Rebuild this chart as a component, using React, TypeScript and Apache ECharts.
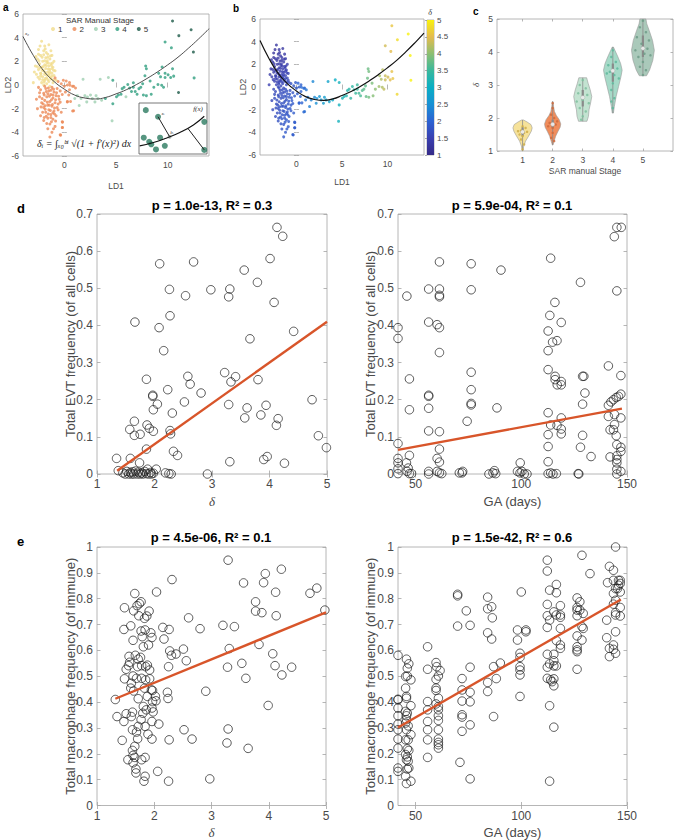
import React, { useEffect, useRef } from "react";
import * as echarts from "echarts";

const FONT = "'Liberation Sans', Arial, Helvetica, sans-serif";
const SERIF = "'Liberation Serif', 'DejaVu Serif', serif";
const AXIS_COLOR = "#a3a3a3";
const TEXT_COLOR = "#4a4a4a";
const FIT_COLOR = "#d8552a";

// ---------- Panel a / b : [LD1, LD2, SAR stage, delta]
const ldPoints: number[][] = [
  [-2.2,3.7,1,1.3],[-1.9,3.3,1,1.3],[-2.5,3.0,1,1.25],[-2.0,2.9,1,1.3],[-1.6,2.6,1,1.35],[-2.3,2.5,1,1.3],[-1.2,2.5,1,1.4],[-1.8,2.3,1,1.35],[-2.6,2.2,1,1.3],[-1.4,2.2,1,1.4],
  [-2.1,2.0,1,1.35],[-1.0,2.0,1,1.45],[-1.7,1.9,1,1.4],[-2.4,1.8,1,1.35],[-1.3,1.8,1,1.45],[-1.9,1.7,1,1.4],[-2.8,1.6,1,1.3],[-1.5,1.6,1,1.45],[-2.2,1.5,1,1.4],[-1.1,1.5,1,1.5],
  [-1.8,1.4,1,1.45],[-2.5,1.3,1,1.4],[-1.4,1.3,1,1.5],[-2.0,1.2,1,1.45],[-0.9,1.2,1,1.55],[-1.6,1.1,1,1.5],[-2.3,1.0,1,1.45],[-1.2,1.0,1,1.55],[-1.9,0.9,1,1.5],[-2.7,0.9,1,1.45],
  [-1.5,0.8,1,1.55],[-1.0,0.8,1,1.6],[-2.1,0.7,1,1.5],[-1.7,0.6,1,1.55],[-2.4,0.5,1,1.5],[-1.3,0.5,1,1.6],[-1.9,0.4,1,1.55],[-0.8,0.4,1,1.65],[-1.5,0.3,1,1.6],[-2.2,0.2,1,1.55],
  [-1.1,0.2,1,1.65],[-1.7,0.1,1,1.6],[-2.0,0.0,1,1.6],[-1.4,-0.1,1,1.65],[-2.5,2.6,1,1.25],[-1.3,2.9,1,1.35],[-1.5,3.4,1,1.3],[-2.9,1.1,1,1.4],[-3.0,0.2,1,1.5],[-1.2,1.4,1,1.5],
  [-1.65,2.05,1,1.4],[-2.05,1.55,1,1.4],[-1.25,1.65,1,1.5],[-1.85,1.05,1,1.5],[-2.35,1.45,1,1.4],[-1.45,0.95,1,1.55],[-1.95,0.25,1,1.6],[-1.35,0.65,1,1.6],[-2.15,2.35,1,1.3],[-1.75,2.75,1,1.35],
  [-1.05,0.45,1,1.65],[-2.55,0.65,1,1.5],[-1.55,1.85,1,1.45],[-2.25,0.95,1,1.5],[-1.85,0.55,1,1.55],
  [-1.6,2.35,1,1.35],[-2.0,2.55,1,1.3],[-1.35,2.45,1,1.4],[-2.45,2.05,1,1.35],[-1.15,1.85,1,1.45],[-1.75,1.65,1,1.45],[-2.15,1.25,1,1.45],[-1.55,1.35,1,1.5],[-1.05,1.25,1,1.55],[-2.6,1.55,1,1.35],
  [-1.7,0.85,1,1.55],[-2.3,0.75,1,1.5],[-1.2,0.75,1,1.6],[-1.6,0.45,1,1.6],[-2.1,0.45,1,1.55],[-1.4,1.1,1,1.55],[-1.9,2.05,1,1.4],[-2.75,2.4,1,1.3],[-1.85,3.05,1,1.3],[-2.35,3.3,1,1.25],
  [-0.9,0.6,2,1.65],[-0.6,0.3,2,1.75],[-0.3,0.1,2,1.8],[0.0,-0.1,2,1.85],[0.3,0.0,2,1.9],[-1.2,-0.2,2,1.7],[-0.7,-0.3,2,1.75],[-1.8,-0.3,2,1.65],[-2.3,-0.4,2,1.6],[-1.5,-0.5,2,1.7],
  [-1.0,-0.6,2,1.75],[-0.4,-0.5,2,1.8],[-2.0,-0.7,2,1.65],[-1.3,-0.8,2,1.75],[-0.8,-0.9,2,1.8],[-1.7,-1.0,2,1.7],[-2.4,-1.0,2,1.65],[-1.1,-1.1,2,1.75],[-0.5,-1.2,2,1.85],[-1.9,-1.3,2,1.7],
  [-1.4,-1.4,2,1.75],[-2.2,-1.5,2,1.7],[-0.9,-1.5,2,1.8],[-1.6,-1.7,2,1.75],[-1.2,-1.8,2,1.8],[-2.0,-1.9,2,1.7],[-0.7,-1.9,2,1.85],[-1.5,-2.1,2,1.75],[-1.0,-2.2,2,1.8],[-1.8,-2.3,2,1.75],
  [-1.3,-2.5,2,1.8],[-2.3,-2.6,2,1.7],[-0.8,-2.6,2,1.85],[-1.6,-2.8,2,1.8],[-1.1,-2.9,2,1.85],[-2.0,-3.0,2,1.75],[-1.4,-3.3,2,1.8],[-0.9,-3.5,2,1.85],[-1.6,-3.7,2,1.8],[-1.2,-4.0,2,1.85],
  [-1.4,-4.4,2,1.85],[-0.2,-3.1,2,1.9],[-0.2,-3.6,2,1.9],[-0.4,-4.2,2,1.9],[0.6,-1.4,2,2.0],[0.3,-1.4,2,1.95],[0.1,-0.6,2,1.9],[0.5,-0.4,2,1.95],[-0.2,-0.8,2,1.85],[0.8,-2.2,2,2.05],
  [-2.6,-2.0,2,1.65],[-2.1,-2.3,2,1.7],[-2.5,-0.2,2,1.6],[-1.9,-0.1,2,1.65],[0.9,-0.1,2,2.05],[0.5,0.2,2,1.95],[-0.1,0.4,2,1.85],[-2.7,-1.2,2,1.6],[-0.6,-1.6,2,1.85],[-0.3,-2.3,2,1.9],
  [-1.75,-0.55,2,1.7],[-1.25,-1.25,2,1.75],[-1.65,-1.45,2,1.75],[-1.05,-0.35,2,1.75],[-1.45,-0.95,2,1.75],[-2.15,-1.15,2,1.7],[-1.15,-1.65,2,1.8],[-1.85,-1.75,2,1.75],[-1.35,-2.15,2,1.8],[-0.95,-2.45,2,1.85],
  [-1.75,-2.65,2,1.8],[-1.55,-0.25,2,1.7],[-0.85,-1.25,2,1.8],[-1.95,-0.85,2,1.7],[-1.25,-3.1,2,1.85],
  [-1.6,-0.75,2,1.7],[-1.1,-0.85,2,1.75],[-2.05,-1.6,2,1.7],[-1.45,-1.7,2,1.75],[-0.75,-0.65,2,1.8],[-1.3,-0.45,2,1.7],[-1.85,-2.05,2,1.75],[-1.1,-2.35,2,1.8],[-1.55,-2.45,2,1.8],[-0.6,-2.1,2,1.85],
  [-1.95,-2.75,2,1.75],[-1.3,-2.75,2,1.8],[-0.85,-3.05,2,1.85],[-1.7,-3.25,2,1.8],[-1.05,-3.7,2,1.85],[-2.25,-1.85,2,1.7],[-0.4,-1.45,2,1.85],[-0.55,-0.95,2,1.8],[-2.4,-0.65,2,1.65],[-0.95,-1.95,2,1.8],
  [0.18,0.34,2,2.0],[0.29,-1.43,2,2.0],[0.43,-0.84,2,2.0],[0.54,-0.02,2,2.05],[0.79,-0.11,2,2.1],[0.9,-2.17,2,2.1],[1.08,-0.25,2,2.2],[-0.18,-3.14,2,1.9],[-0.18,-3.59,2,1.9],[-0.36,-4.24,2,1.9],
  [1.01,-1.14,3,2.2],[1.26,-0.9,3,2.25],[1.44,-1.73,3,2.3],[1.62,-1.14,3,2.35],[1.81,0.48,3,2.4],[1.99,-0.9,3,2.45],[2.17,-1.43,3,2.5],[2.24,-1.02,3,2.5],[2.53,-0.84,3,2.6],[2.71,-1.14,3,2.65],
  [2.96,-1.43,3,2.7],[3.07,-0.9,3,2.7],[3.25,-1.14,3,2.75],[3.47,0.48,3,2.8],[3.61,-1.29,3,2.8],[3.97,-1.14,4,2.9],[4.26,0.63,3,3.0],[4.62,-3.03,3,3.1],[4.69,-1.58,4,3.1],[4.69,0.4,4,3.1],
  [5.05,-0.99,4,3.2],[5.23,-0.84,4,3.2],[5.49,-0.78,4,3.3],[5.6,-0.31,4,3.3],[5.78,-0.19,4,3.35],[5.96,-0.99,3,3.4],[6.14,0.04,4,3.4],[6.32,-0.25,4,3.45],[6.5,-0.55,4,3.5],[6.68,0.19,4,3.5],
  [6.68,-0.19,4,3.5],[6.86,-0.55,4,3.55],[7.04,-0.78,4,3.6],[7.22,-0.31,4,3.65],[7.4,-0.19,4,3.7],[7.58,0.1,4,3.7],[7.65,-0.84,4,3.75],[7.8,0.78,4,3.8],[7.87,1.6,4,3.8],[7.94,1.37,4,3.85],
  [7.94,-0.9,4,3.85],[8.3,0.34,4,3.9],[8.41,-0.78,4,3.95],[8.66,-0.19,4,4.0],[9.06,0.04,4,4.1],[9.13,0.99,4,4.15],[9.31,0.69,4,4.2],[9.42,-0.02,4,4.2],[9.46,1.52,4,4.25],[9.6,-0.19,4,4.3],
  [9.75,0.99,4,4.35],[9.75,0.63,4,4.35],[9.75,3.64,4,4.4],[10.04,0.87,4,4.4],[10.29,0.63,4,4.5],[10.36,3.14,4,4.5],[10.47,1.37,4,4.55],[10.47,5.41,5,4.6],[10.58,0.75,4,4.6],[11.05,-0.64,5,4.75],
  [11.08,4.17,5,4.8],[12.27,4.67,5,5.0],[12.49,2.78,5,5.0],[12.56,0.6,4,5.0],
];
const ldCurve: number[][] = [
  [-4,4.1],[-3,2.5],[-2,1.2],[-1,0.3],[0,-0.35],[1,-0.85],[2,-1.1],[3,-1.18],[4,-1.05],[5,-0.75],
  [6,-0.4],[7,0.05],[8,0.55],[9,1.1],[10,1.7],[11,2.35],[12,3.1],[13,3.9],[14,4.75],
];
const stageNames = ["1", "2", "3", "4", "5"];
const stageColors = ["#f1dc8c", "#ec8a58", "#9fcfb2", "#2f9f7f", "#1d5a48"];
const parula = ["#352a87", "#3a40b0", "#2c62d2", "#1890d4", "#0aaec4", "#3ab89c", "#8cbf72", "#e4bb4e", "#f9f20f"];
const deltaRange = [1, 5];

// inset schematic (unit square 0..10)
const insetCurve: number[][] = [[0.1,1.6],[2,2.2],[4,3.1],[6,4.2],[8,5.7],[9.6,7.4]];
const insetDots: number[][] = [[1,8.6],[2.8,7.3],[0.7,3.2],[3.1,3.2],[1.8,1.9],[2.5,0.9],[3.8,1.6],[9.6,6.3],[9.6,0.8],[1.5,2.4]];
const insetProj1: number[][] = [[2.8,7.3],[4.5,3.4]];
const insetProj2: number[][] = [[7.2,5.0],[9.6,0.8]];
const insetFoot: number[][] = [[4.5,3.4]];

// ---------- Panel c : violins
const violinStages = [1, 2, 3, 4, 5];
const violinProfiles: number[][][] = [
  [[1.0,0.01],[1.15,0.04],[1.3,0.1],[1.45,0.2],[1.6,0.29],[1.7,0.32],[1.8,0.28],[1.88,0.15],[1.94,0.03]],
  [[1.18,0.01],[1.3,0.05],[1.45,0.1],[1.6,0.18],[1.72,0.25],[1.82,0.27],[1.95,0.22],[2.08,0.12],[2.2,0.06],[2.35,0.03],[2.5,0.01]],
  [[1.9,0.14],[2.05,0.19],[2.25,0.21],[2.45,0.26],[2.65,0.3],[2.85,0.25],[3.05,0.18],[3.22,0.13]],
  [[2.15,0.02],[2.35,0.05],[2.65,0.11],[2.95,0.19],[3.25,0.27],[3.45,0.31],[3.65,0.26],[3.85,0.17],[4.05,0.07],[4.15,0.02]],
  [[3.28,0.12],[3.45,0.22],[3.75,0.33],[4.05,0.38],[4.35,0.32],[4.65,0.21],[4.85,0.13],[5.0,0.1]],
];
const violinMin = [1.0, 1.18, 1.9, 2.15, 3.28];
const violinMax = [1.94, 2.5, 3.22, 4.15, 5.0];
const violinQ1 = [1.45, 1.7, 2.35, 3.1, 3.85];
const violinQ3 = [1.72, 1.95, 2.85, 3.65, 4.5];
const violinMedian = [1.58, 1.81, 2.62, 3.43, 4.11];
const violinFill = ["#f6e29a", "#f08d5c", "#c3e3d1", "#a6dac8", "#aac9ba"];
const violinDotColor = ["#cfae48", "#cf6a3c", "#7fbf9f", "#5fb89c", "#6f9c88"];
const violinDots: number[][][] = [
  [[0.95,1.62],[1.05,1.55],[0.9,1.5],[1.1,1.7],[1.0,1.45],[0.85,1.6],[1.15,1.58],[1.0,1.75],[0.95,1.35],[1.05,1.2],[1.0,1.05]],
  [[2.0,2.45],[2.0,2.3],[1.95,2.1],[2.05,2.0],[1.9,1.85],[2.1,1.8],[2.0,1.7],[1.85,1.75],[2.15,1.9],[2.0,1.55],[1.95,1.4],[2.05,1.3]],
  [[3.0,3.15],[2.9,3.0],[3.1,2.9],[2.85,2.75],[3.15,2.7],[3.0,2.55],[2.8,2.5],[3.2,2.45],[2.9,2.3],[3.1,2.2],[3.0,2.05],[2.95,1.95]],
  [[4.0,4.05],[3.95,3.85],[4.1,3.7],[3.85,3.6],[4.15,3.5],[3.9,3.4],[4.05,3.3],[3.8,3.35],[4.2,3.2],[4.0,3.05],[3.95,2.85],[4.05,2.6],[3.95,2.5],[4.0,2.3]],
  [[5.0,4.95],[4.9,4.75],[5.1,4.6],[4.8,4.45],[5.2,4.35],[4.95,4.25],[5.15,4.1],[4.75,4.05],[5.05,3.95],[4.85,3.85],[5.25,3.9],[5.0,3.7],[4.9,3.55],[5.1,3.45],[5.0,3.3]],
];

// ---------- Panel d : EVT frequency
const evtVsDelta: number[][] = [
  [1.34,0.042],[1.37,0.009],[1.45,0.003],[1.49,0.0],[1.52,0.007],[1.55,0.0],[1.58,0.004],[1.6,0.0],[1.62,0.006],[1.64,0.0],
  [1.67,0.008],[1.7,0.0],[1.72,0.005],[1.75,0.0],[1.78,0.003],[1.8,0.0],[1.83,0.007],[1.86,0.001],[1.88,0.013],[1.9,0.0],
  [1.93,0.004],[1.95,0.0],[1.98,0.002],[2.03,0.013],[1.57,0.12],[1.58,0.042],[1.65,0.142],[1.66,0.409],[1.65,0.104],[1.75,0.107],
  [1.74,0.03],[1.86,0.255],[1.87,0.132],[1.91,0.123],[1.98,0.115],[1.86,0.067],[1.97,0.212],[1.97,0.209],[1.98,0.173],[2.05,0.188],
  [2.08,0.394],[2.09,0.566],[2.16,0.332],[2.23,0.227],[2.26,0.497],[2.27,0.426],[2.27,0.117],[2.28,0.108],[2.31,0.164],[2.33,0.061],
  [2.4,0.05],[2.19,0.003],[2.25,0.001],[2.29,0.0],[2.54,0.48],[2.52,0.194],[2.58,0.263],[2.62,0.242],[2.68,0.571],[2.81,0.218],
  [2.92,0.0],[2.98,0.496],[3.22,0.273],[3.29,0.477],[3.31,0.498],[3.29,0.187],[3.33,0.248],[3.31,0.033],[3.41,0.262],[3.56,0.549],
  [3.57,0.151],[3.61,0.178],[3.66,0.364],[3.79,0.516],[3.8,0.254],[3.85,0.159],[3.94,0.185],[3.9,0.039],[3.96,0.047],[4.01,0.58],
  [4.08,0.462],[4.13,0.664],[4.23,0.64],[4.12,0.131],[4.15,0.149],[4.26,0.029],[4.42,0.384],[4.74,0.2],[4.85,0.103],[4.99,0.071],
];
const evtDeltaFit: number[][] = [[1.35,0.009],[5.0,0.41]];
const evtVsGA: number[][] = [
  [41.7,0.394],[41.7,0.365],[41.7,0.082],[41.7,0.042],[41.7,0.03],[41.7,0.014],[41.7,0.001],
  [45.9,0.479],[47.1,0.256],[47.1,0.173],[47.1,0.05],[45.7,0.03],[46.5,0.016],[46.0,0.007],[47.1,0.001],[48.1,0.001],
  [56.2,0.498],[56.2,0.409],[56.2,0.212],[56.2,0.209],[56.2,0.177],[56.2,0.116],[56.2,0.007],[56.2,0.0],
  [61.3,0.571],[61.3,0.498],[61.3,0.481],[61.3,0.477],[60.2,0.402],[61.3,0.394],[61.3,0.327],[61.3,0.114],[61.3,0.067],[60.2,0.042],[61.3,0.032],[60.2,0.007],[61.3,0.003],[62.4,0.001],
  [74.4,0.142],[70.7,0.003],[72.0,0.003],[72.3,0.007],
  [76.3,0.566],[76.3,0.496],[76.3,0.274],[76.3,0.227],[76.3,0.19],[76.3,0.186],
  [88.5,0.178],[90.4,0.549],[84.7,0.0],[86.6,0.003],[87.3,0.009],[87.9,0.001],
  [99.5,0.03],[98.2,0.007],[99.4,0.003],[100.3,0.007],[101.4,0.0],[102.7,0.0],
  [113.9,0.581],[112.7,0.385],[113.5,0.427],[112.7,0.332],[112.7,0.281],[112.7,0.165],[112.7,0.106],[112.7,0.074],[112.7,0.033],[113.9,0.132],[112.7,0.001],[113.9,0.003],[115.0,0.0],[116.6,0.001],
  [115.9,0.462],[114.8,0.355],[116.9,0.359],[116.0,0.263],[116.0,0.254],[117.0,0.24],[118.9,0.408],[118.9,0.249],[118.9,0.24],[116.9,0.131],[118.9,0.151],[118.9,0.121],[118.9,0.108],
  [128.0,0.516],[128.0,0.072],[129.0,0.263],[129.6,0.263],[129.0,0.188],[130.1,0.218],[129.0,0.104],[133.0,0.047],[126.9,0.001],[127.2,0.0],
  [141.2,0.291],[141.2,0.185],[142.4,0.194],[143.6,0.2],[144.9,0.206],[146.0,0.209],[144.0,0.639],[145.2,0.664],[147.3,0.664],[145.2,0.493],
  [147.1,0.265],[147.1,0.215],[147.1,0.151],[141.2,0.155],[142.0,0.119],[143.6,0.119],[144.1,0.133],[144.1,0.16],[144.9,0.103],[145.2,0.079],
  [147.1,0.072],[147.1,0.061],[142.0,0.046],[145.2,0.049],[145.2,0.039],[145.2,0.03],[145.2,0.013],[147.1,0.007],[145.2,0.0],
];
const evtGAFit: number[][] = [[41.7,0.065],[147.6,0.176]];

// ---------- Panel e : macrophage frequency
const macVsDelta: number[][] = [
  [1.32,0.41],[1.35,0.344],[1.44,0.252],[1.47,0.325],[1.48,0.765],[1.47,0.681],[1.48,0.49],[1.51,0.527],[1.51,0.355],[1.54,0.177],
  [1.55,0.541],[1.56,0.577],[1.59,0.695],[1.57,0.554],[1.6,0.473],[1.59,0.454],[1.6,0.344],[1.62,0.361],[1.62,0.293],[1.62,0.213],
  [1.63,0.194],[1.63,0.165],[1.63,0.639],[1.63,0.501],[1.64,0.443],[1.64,0.753],[1.66,0.82],[1.66,0.229],[1.66,0.186],[1.67,0.581],
  [1.68,0.141],[1.68,0.126],[1.69,0.284],[1.69,0.492],[1.7,0.773],[1.71,0.537],[1.71,0.258],[1.72,0.413],[1.72,0.566],[1.72,0.306],
  [1.73,0.734],[1.74,0.781],[1.76,0.573],[1.77,0.675],[1.77,0.332],[1.77,0.788],[1.78,0.177],[1.78,0.541],[1.78,0.492],[1.79,0.653],
  [1.8,0.357],[1.81,0.383],[1.81,0.614],[1.82,0.094],[1.83,0.454],[1.83,0.724],[1.84,0.679],[1.84,0.306],[1.84,0.186],[1.84,0.113],
  [1.85,0.537],[1.85,0.486],[1.86,0.37],[1.87,0.733],[1.88,0.543],[1.88,0.422],[1.89,0.276],[1.9,0.621],[1.91,0.752],[1.92,0.49],
  [1.92,0.524],[1.94,0.668],[1.95,0.447],[1.96,0.65],[1.96,0.325],[1.96,0.257],[1.96,0.377],[1.97,0.445],[1.97,0.402],[1.98,0.362],
  [2.02,0.422],[2.03,0.405],[2.04,0.826],[2.06,0.132],[2.08,0.315],[2.15,0.689],[2.17,0.644],[2.23,0.438],[2.24,0.414],[2.25,0.537],
  [2.26,0.254],[2.26,0.681],[2.25,0.094],[2.27,0.598],[2.3,0.581],[2.31,0.874],[2.38,0.586],[2.51,0.605],[2.52,0.293],[2.56,0.56],
  [2.6,0.726],[2.66,0.257],[2.8,0.684],[2.9,0.442],[2.97,0.103],[3.2,0.697],[3.27,0.242],[3.28,0.535],[3.29,0.949],[3.29,0.296],
  [3.31,0.607],[3.4,0.692],[3.53,0.55],[3.56,0.861],[3.6,0.492],[3.64,0.221],[3.77,0.788],[3.77,0.752],[3.83,0.623],[3.88,0.746],
  [3.91,0.862],[3.94,0.897],[3.99,0.387],[4.07,0.587],[4.11,0.541],[4.12,0.825],[4.13,0.734],[4.22,0.914],[4.23,0.505],[4.4,0.535],
  [4.72,0.821],[4.84,0.841],[4.98,0.756],
];
const macDeltaFit: number[][] = [[1.32,0.413],[5.0,0.747]];
const macVsGA: number[][] = [
  [41.7,0.581],[41.7,0.411],[41.7,0.409],[41.7,0.377],[41.7,0.347],[41.7,0.315],[41.7,0.293],[41.7,0.257],[41.7,0.222],[41.7,0.145],[41.7,0.132],
  [45.7,0.566],[46.8,0.548],[46.1,0.531],[45.3,0.499],[46.1,0.501],[45.3,0.454],[45.7,0.422],[45.7,0.415],[45.3,0.364],[46.1,0.357],
  [45.7,0.347],[45.7,0.332],[45.3,0.319],[45.7,0.293],[46.5,0.308],[45.3,0.254],[46.5,0.254],[46.1,0.219],[46.8,0.213],[45.3,0.197],
  [46.1,0.188],[45.7,0.177],[46.5,0.171],[46.1,0.141],[46.8,0.145],[45.3,0.113],[45.7,0.085],[47.8,0.094],[47.8,0.386],[47.8,0.486],[47.8,0.274],
  [55.7,0.614],[55.7,0.527],[55.7,0.402],[55.7,0.37],[55.7,0.325],[55.7,0.293],[55.7,0.254],[55.7,0.186],
  [59.7,0.553],[60.0,0.537],[60.8,0.501],[61.6,0.522],[59.7,0.488],[59.7,0.454],[59.7,0.445],[60.8,0.415],[59.7,0.393],[60.8,0.383],
  [60.8,0.37],[60.8,0.347],[60.8,0.329],[60.8,0.293],[60.8,0.257],[60.8,0.244],[60.8,0.235],[60.8,0.222],
  [69.9,0.817],[69.9,0.811],[69.9,0.694],[72.0,0.491],[72.0,0.447],[72.0,0.404],[72.0,0.351],[72.0,0.342],[72.0,0.287],[71.0,0.167],
  [74.0,0.753],[75.8,0.697],[75.8,0.535],[75.8,0.438],[75.8,0.401],[75.8,0.312],[75.8,0.103],
  [84.1,0.806],[84.1,0.761],[86.0,0.769],[86.3,0.726],[84.1,0.668],[86.0,0.644],[84.1,0.476],[84.1,0.441],[86.9,0.344],[86.9,0.537],[88.2,0.491],[90.1,0.551],
  [98.2,0.64],[98.2,0.679],[100.0,0.826],[99.4,0.589],[99.4,0.573],[99.4,0.537],[99.4,0.524],[99.4,0.505],[99.4,0.422],[102.2,0.679],[102.2,0.672],
  [112.3,0.949],[112.3,0.907],[112.3,0.778],[112.3,0.734],[112.3,0.689],[112.3,0.585],[112.3,0.535],[112.3,0.492],[113.4,0.833],[113.4,0.717],
  [113.4,0.548],[113.9,0.486],[113.4,0.386],[113.4,0.094],[114.6,0.479],[115.4,0.749],[115.4,0.585],[115.4,0.56],[115.4,0.54],[115.4,0.49],
  [115.4,0.463],[115.4,0.303],[116.6,0.855],[116.6,0.823],[116.6,0.737],[116.6,0.638],[116.6,0.54],
  [118.5,0.773],[118.5,0.737],[118.5,0.728],[118.5,0.685],[118.5,0.621],[118.5,0.608],
  [126.4,0.803],[126.4,0.766],[126.4,0.756],[126.4,0.734],[126.4,0.656],[126.4,0.614],[126.4,0.602],[126.4,0.595],[126.4,0.527],[127.7,0.788],
  [127.7,0.756],[128.7,0.968],[128.7,0.692],[128.7,0.64],[129.3,0.743],[129.3,0.685],[132.5,0.897],
  [140.8,0.862],[140.4,0.717],[140.4,0.649],[141.7,0.925],[141.7,0.608],[141.7,0.576],[143.6,0.91],[143.6,0.871],[143.6,0.82],[143.6,0.779],
  [143.6,0.621],[143.6,0.604],[144.6,0.589],[144.6,0.672],[144.6,1.0],[144.6,0.839],[144.6,0.794],[144.6,0.746],[144.6,0.737],[145.5,0.839],
  [146.0,0.871],[146.0,0.852],[146.8,0.871],[146.8,0.859],[146.8,0.826],[146.8,0.766],[146.8,0.733],
];
const macGAFit: number[][] = [[41.7,0.302],[147.1,0.797]];

const titles = ["p = 1.0e-13, R² = 0.3", "p = 5.9e-04, R² = 0.1", "p = 4.5e-06, R² = 0.1", "p = 1.5e-42, R² = 0.6"];
const gaTicks = [50, 100, 150];
const ldTicks = [0, 5, 10];
const stageTicks = [1, 2, 3, 4, 5];

type AxisSpec = {
  min: number; max: number; interval?: number; custom?: number[];
  name?: string; nameGap?: number; nameFont?: string; nameStyle?: string; nameSize?: number;
  fontSize: number; margin: number; tick: number;
};

function buildOption() {
  const xAxes: any[] = [];
  const yAxes: any[] = [];

  const axisObj = (grid: number, s: AxisSpec, position: string, mirror: boolean) => {
    const o: any = {
      type: "value", gridIndex: grid, position, min: s.min, max: s.max,
      splitLine: { show: false },
      axisLine: { show: false },
      axisTick: { show: true, inside: true, length: s.tick, lineStyle: { color: AXIS_COLOR, width: 0.8 } },
      axisLabel: { show: !mirror, fontSize: s.fontSize, color: TEXT_COLOR, fontFamily: FONT, margin: s.margin },
    };
    if (s.interval != null) o.interval = s.interval;
    if (s.custom) { o.axisLabel.customValues = s.custom; o.axisTick.customValues = s.custom; }
    if (!mirror && s.name) {
      o.name = s.name; o.nameLocation = "middle"; o.nameGap = s.nameGap; o.nameMoveOverlap = false;
      o.nameTextStyle = { fontSize: s.nameSize ?? s.fontSize + 1, color: TEXT_COLOR, fontFamily: s.nameFont ?? FONT, fontStyle: s.nameStyle ?? "normal" };
    }
    return o;
  };
  const addBox = (grid: number, xs: AxisSpec, ys: AxisSpec) => {
    const xi = xAxes.length; xAxes.push(axisObj(grid, xs, "bottom", false));
    const yi = yAxes.length; yAxes.push(axisObj(grid, ys, "left", false));
    xAxes.push(axisObj(grid, xs, "top", true));
    yAxes.push(axisObj(grid, ys, "right", true));
    return [xi, yi];
  };

  const grids = [
    { left: 23, top: 14, width: 186, height: 142 },   // 0 a
    { left: 139, top: 103, width: 68, height: 51 },   // 1 inset
    { left: 260, top: 19, width: 164, height: 136 },  // 2 b
    { left: 427, top: 20, width: 7, height: 135 },    // 3 colorbar
    { left: 497, top: 19, width: 176, height: 132 },  // 4 c
    { left: 97, top: 214, width: 230, height: 260 },  // 5 d left
    { left: 398, top: 214, width: 229, height: 260 }, // 6 d right
    { left: 97, top: 547, width: 229, height: 259 },  // 7 e left
    { left: 398, top: 547, width: 229, height: 259 }, // 8 e right
  ].map((g, i) => ({ ...g, show: true, borderColor: i === 1 ? "#555" : AXIS_COLOR, borderWidth: 0.8, backgroundColor: "transparent", containLabel: false }));

  const small = { fontSize: 8.5, margin: 4, tick: 2.5 };
  const big = { fontSize: 12, margin: 4, tick: 3.5 };

  const [ax, ay] = addBox(0,
    { min: -4, max: 14, custom: ldTicks, name: "LD1", nameGap: 25, nameSize: 8.5, ...small },
    { min: -6, max: 6, interval: 2, name: "LD2", nameGap: 10.5, nameSize: 9, ...small });
  const insX = xAxes.length; xAxes.push({ type: "value", gridIndex: 1, min: 0, max: 10, show: false });
  const insY = yAxes.length; yAxes.push({ type: "value", gridIndex: 1, min: 0, max: 10, show: false });
  const [bx, by] = addBox(2,
    { min: -4, max: 14, custom: ldTicks, name: "LD1", nameGap: 22, nameSize: 8.5, ...small },
    { min: -6, max: 6, interval: 2, name: "LD2", nameGap: 12.5, nameSize: 9, ...small });
  const cbX = xAxes.length; xAxes.push({ type: "value", gridIndex: 3, min: 0, max: 1, show: false });
  const cbY = yAxes.length; yAxes.push({
    type: "value", gridIndex: 3, position: "right", min: deltaRange[0], max: deltaRange[1], interval: 0.5,
    splitLine: { show: false }, axisLine: { show: false },
    axisTick: { show: true, inside: true, length: 2, lineStyle: { color: "#777", width: 0.6 } },
    axisLabel: { fontSize: 8, color: TEXT_COLOR, fontFamily: FONT, margin: 3 },
  });
  const [cx, cy] = addBox(4,
    { min: 0.15, max: 6, custom: stageTicks, name: "SAR manual Stage", nameGap: 15, nameSize: 8.5, ...small },
    { min: 1, max: 5, interval: 1, name: "δ", nameGap: 17, nameSize: 9, nameFont: SERIF, nameStyle: "italic", ...small });
  const [dlx, dly] = addBox(5,
    { min: 1, max: 5, interval: 1, name: "δ", nameGap: 21, nameSize: 13, nameFont: SERIF, nameStyle: "italic", ...big },
    { min: 0, max: 0.7, interval: 0.1, name: "Total EVT frequency (of all cells)", nameGap: 20.5, nameSize: 13, ...big });
  const [drx, dry] = addBox(6,
    { min: 41.7, max: 150, custom: gaTicks, name: "GA (days)", nameGap: 21, nameSize: 13, ...big },
    { min: 0, max: 0.7, interval: 0.1, name: "Total EVT frequency (of all cells)", nameGap: 21.5, nameSize: 13, ...big });
  const [elx, ely] = addBox(7,
    { min: 1, max: 5, interval: 1, name: "δ", nameGap: 20.5, nameSize: 13, nameFont: SERIF, nameStyle: "italic", ...big },
    { min: 0, max: 1, interval: 0.1, name: "Total macrophage frequency (of immune)", nameGap: 20.5, nameSize: 13, ...big });
  const [erx, ery] = addBox(8,
    { min: 41.7, max: 150, custom: gaTicks, name: "GA (days)", nameGap: 20.5, nameSize: 13, ...big },
    { min: 0, max: 1, interval: 0.1, name: "Total macrophage frequency (of immune)", nameGap: 21.5, nameSize: 13, ...big });

  const series: any[] = [];

  stageNames.forEach((nm, i) => {
    series.push({
      type: "scatter", name: nm, xAxisIndex: ax, yAxisIndex: ay, symbolSize: 3,
      itemStyle: { color: stageColors[i] },
      data: ldPoints.filter((p) => p[2] === i + 1).map((p) => [p[0], p[1]]),
    });
  });
  series.push({ type: "line", xAxisIndex: ax, yAxisIndex: ay, data: ldCurve, smooth: true, symbol: "none", lineStyle: { color: "#3a3a3a", width: 0.9 } });
  series.push({ type: "line", xAxisIndex: insX, yAxisIndex: insY, data: insetCurve, smooth: true, symbol: "none", lineStyle: { color: "#111", width: 1.1 } });
  series.push({ type: "line", xAxisIndex: insX, yAxisIndex: insY, data: insetProj1, symbol: "none", lineStyle: { color: "#222", width: 1 } });
  series.push({ type: "line", xAxisIndex: insX, yAxisIndex: insY, data: insetProj2, symbol: "none", lineStyle: { color: "#222", width: 1 } });
  series.push({ type: "scatter", xAxisIndex: insX, yAxisIndex: insY, data: insetDots, symbolSize: 6, itemStyle: { color: "#2c7a60" } });
  series.push({ type: "scatter", xAxisIndex: insX, yAxisIndex: insY, data: insetFoot, symbolSize: 4, itemStyle: { color: "#9aa8a0" } });

  const bIndex = series.length;
  series.push({
    type: "scatter", name: "delta", xAxisIndex: bx, yAxisIndex: by, symbolSize: 3,
    data: ldPoints.map((p) => [p[0], p[1], p[3]]),
  });
  series.push({ type: "line", xAxisIndex: bx, yAxisIndex: by, data: ldCurve, smooth: true, symbol: "none", lineStyle: { color: "#111", width: 1.2 } });
  series.push({
    type: "custom", xAxisIndex: cbX, yAxisIndex: cbY, data: [[0, deltaRange[0], 1, deltaRange[1]]],
    renderItem: (params: any, api: any) => {
      const p0 = api.coord([api.value(0), api.value(3)]);
      const p1 = api.coord([api.value(2), api.value(1)]);
      return {
        type: "rect",
        shape: { x: p0[0], y: p0[1], width: p1[0] - p0[0], height: p1[1] - p0[1] },
        style: { fill: new echarts.graphic.LinearGradient(0, 1, 0, 0, parula.map((c, i) => ({ offset: i / (parula.length - 1), color: c }))) },
      };
    },
  });

  series.push({
    type: "custom", xAxisIndex: cx, yAxisIndex: cy, clip: false,
    data: violinStages.map((s, i) => [s, violinMedian[i]]),
    renderItem: (params: any, api: any) => {
      const i = params.dataIndex;
      const s = violinStages[i];
      const prof = violinProfiles[i];
      const right = prof.map(([y, w]) => api.coord([s + w, y]));
      const left = prof.slice().reverse().map(([y, w]) => api.coord([s - w, y]));
      const top = api.coord([s, violinMax[i]]);
      const bot = api.coord([s, violinMin[i]]);
      const q1 = api.coord([s, violinQ1[i]]);
      const q3 = api.coord([s, violinQ3[i]]);
      return {
        type: "group",
        children: [
          { type: "polygon", shape: { points: right.concat(left) }, style: { fill: violinFill[i], stroke: "#9a9a9a", lineWidth: 0.6 } },
          { type: "line", shape: { x1: bot[0], y1: bot[1], x2: top[0], y2: top[1] }, style: { stroke: "#8a8a8a", lineWidth: 0.8 } },
          { type: "line", shape: { x1: q1[0], y1: q1[1], x2: q3[0], y2: q3[1] }, style: { stroke: "#8a8a8a", lineWidth: 2.2 } },
        ],
      };
    },
  });
  violinDots.forEach((d, i) => {
    series.push({ type: "scatter", xAxisIndex: cx, yAxisIndex: cy, data: d, symbolSize: 2.5, clip: false, itemStyle: { color: violinDotColor[i], opacity: 0.85 } });
  });
  series.push({
    type: "scatter", xAxisIndex: cx, yAxisIndex: cy, data: violinStages.map((s, i) => [s, violinMedian[i]]),
    symbolSize: 4, itemStyle: { color: "#ffffff", borderColor: "#9a9a9a", borderWidth: 0.5 },
  });

  const open = { color: "rgba(0,0,0,0)", borderColor: "#1a1a1a", borderWidth: 0.9 };
  const scat = (xi: number, yi: number, data: number[][]) => ({ type: "scatter", xAxisIndex: xi, yAxisIndex: yi, data, symbolSize: 8.5, clip: false, itemStyle: open });
  const fit = (xi: number, yi: number, data: number[][]) => ({ type: "line", xAxisIndex: xi, yAxisIndex: yi, data, symbol: "none", z: 3, lineStyle: { color: FIT_COLOR, width: 2.4 } });
  series.push(scat(dlx, dly, evtVsDelta), fit(dlx, dly, evtDeltaFit));
  series.push(scat(drx, dry, evtVsGA), fit(drx, dry, evtGAFit));
  series.push(scat(elx, ely, macVsDelta), fit(elx, ely, macDeltaFit));
  series.push(scat(erx, ery, macVsGA), fit(erx, ery, macGAFit));

  const txt = (text: string, x: number, y: number, font: string, align = "left", fill = "#000") => ({
    type: "text", x, y, silent: true,
    style: { text, font, fill, textAlign: align, align, textVerticalAlign: "middle", verticalAlign: "middle" },
  });

  const graphic = [
    txt("a", 3, 7, `bold 10px ${FONT}`),
    txt("b", 233, 8, `bold 10px ${FONT}`),
    txt("c", 473, 11, `bold 10px ${FONT}`),
    txt("d", 17, 208, `bold 13px ${FONT}`),
    txt("e", 17, 541, `bold 13px ${FONT}`),
    txt(titles[0], 212, 205, `bold 13px ${FONT}`, "center"),
    txt(titles[1], 512, 205, `bold 13px ${FONT}`, "center"),
    txt(titles[2], 211, 537, `bold 13px ${FONT}`, "center"),
    txt(titles[3], 512, 537, `bold 13px ${FONT}`, "center"),
    txt("SAR Manual Stage", 100, 20, `8px ${FONT}`, "center", "#333"),
    txt("δ", 430, 12, `italic 8px ${SERIF}`, "center", "#333"),
    txt("δᵢ = ∫ₓ₀ᵇⁱ √(1 + f′(x)²) dx", 37, 143, `italic 10px ${SERIF}`, "left", "#222"),
    txt("f(x)", 198, 109, `italic 7px ${SERIF}`, "center", "#333"),
    txt("x₀", 27, 33, `italic 5px ${SERIF}`, "center", "#333"),
    txt("xᵢ", 163, 113, `italic 5px ${SERIF}`, "center", "#333"),
    txt("bᵢ", 172, 132, `italic 5px ${SERIF}`, "center", "#333"),
  ];

  return {
    animation: false,
    backgroundColor: "#ffffff",
    textStyle: { fontFamily: FONT },
    grid: grids,
    xAxis: xAxes,
    yAxis: yAxes,
    legend: {
      data: stageNames, left: 51, top: 25, itemWidth: 4, itemHeight: 4, itemGap: 10, icon: "circle",
      selectedMode: false, padding: 0,
      textStyle: { fontSize: 8, color: "#333", fontFamily: FONT, padding: [0, 0, 0, -2] },
    },
    visualMap: {
      type: "continuous", show: false, min: deltaRange[0], max: deltaRange[1], dimension: 2,
      seriesIndex: bIndex, inRange: { color: parula },
    },
    series,
    graphic,
  };
}

export default function App() {
  const ref = useRef<HTMLDivElement>(null);
  useEffect(() => {
    document.body.style.margin = "0";
    const chart = echarts.init(ref.current!, null, { renderer: "svg" });
    chart.setOption(buildOption() as any);
    return () => chart.dispose();
  }, []);
  return <div ref={ref} style={{ width: 675, height: 840 }} />;
}
